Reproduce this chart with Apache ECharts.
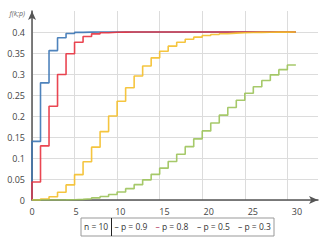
<!DOCTYPE html>
<html><head><meta charset="utf-8">
<script src="https://cdn.jsdelivr.net/npm/echarts@6/dist/echarts.min.js"></script>
<style>html,body{margin:0;padding:0;background:#fff}#c{width:330px;height:244px}</style>
</head><body><div id="c"></div>
<script>
// k = 0..30 ; scaled CDF values
var nValue = 10;
var pLabels = ['0.9', '0.8', '0.5', '0.3'];
var colors = ['#3b76b5', '#e8323f', '#f4bf2a', '#9cc35a'];
var dashColors = ['#333', '#b0305a', '#333', '#333'];
var xTickLabels = [0, 5, 10, 15, 20, 25, 30];
var yTickLabels = [0, 0.05, 0.1, 0.15, 0.2, 0.25, 0.3, 0.35, 0.4];

var p09 = [0.1395, 0.2789, 0.3557, 0.3863, 0.3963, 0.3991, 0.3998, 0.4, 0.4, 0.4, 0.4, 0.4, 0.4, 0.4, 0.4, 0.4,
  0.4, 0.4, 0.4, 0.4, 0.4, 0.4, 0.4, 0.4, 0.4, 0.4, 0.4, 0.4, 0.4, 0.4, 0.4];
var p08 = [0.0429, 0.1288, 0.2233, 0.2989, 0.3481, 0.3756, 0.3893, 0.3956, 0.3983, 0.3994, 0.3998, 0.3999, 0.4, 0.4, 0.4, 0.4,
  0.4, 0.4, 0.4, 0.4, 0.4, 0.4, 0.4, 0.4, 0.4, 0.4, 0.4, 0.4, 0.4, 0.4, 0.4];
var p05 = [0.0004, 0.0023, 0.0077, 0.0185, 0.0359, 0.0604, 0.0909, 0.1258, 0.1629, 0.2, 0.2352, 0.2673, 0.2953, 0.3190, 0.3385, 0.3541,
  0.3663, 0.3756, 0.3826, 0.3877, 0.3915, 0.3941, 0.3960, 0.3973, 0.3982, 0.3988, 0.3992, 0.3995, 0.3997, 0.3998, 0.3999];
var p03 = [0.0000, 0.0000, 0.0001, 0.0003, 0.0007, 0.0015, 0.0029, 0.0051, 0.0084, 0.0130, 0.0192, 0.0270, 0.0366, 0.0480, 0.0611, 0.0758,
  0.0918, 0.1090, 0.1270, 0.1456, 0.1645, 0.1834, 0.2020, 0.2201, 0.2376, 0.2542, 0.2698, 0.2844, 0.2980, 0.3103, 0.3216];
var seriesValues = [p09, p08, p05, p03];

function stepData(vals) {
  var d = [[0, 0]];
  for (var k = 0; k < vals.length; k++) d.push([k, vals[k]]);
  d.push([vals.length, vals[vals.length - 1]]);
  return d;
}

var FONT = 'Open Sans';
var chart = echarts.init(document.getElementById('c'), null, {renderer: 'svg'});

var series = seriesValues.map(function (v, i) {
  return {
    type: 'line', name: 'p = ' + pLabels[i], step: 'end', showSymbol: false,
    data: stepData(v), xAxisIndex: 0,
    lineStyle: {color: colors[i], width: 1.6, opacity: 0.9},
    itemStyle: {color: colors[i]}, animation: false
  };
});

var legendItems = [];
var legendX = [114.5, 155.5, 197, 238];
pLabels.forEach(function (p, i) {
  legendItems.push({
    type: 'text', left: legendX[i], top: 222,
    style: {
      text: '{d|–} p = ' + p, fontFamily: FONT, fontSize: 8.5, fill: '#333',
      rich: {d: {fill: dashColors[i], fontFamily: FONT, fontSize: 8.5}}
    }
  });
});

chart.setOption({
  animation: false,
  grid: {left: 32, right: 12, top: 11, bottom: 44},
  xAxis: [{
    type: 'value', min: 0, max: 33.6, interval: 5,
    axisLine: {show: true, lineStyle: {color: '#555', width: 1.5}, symbol: ['none', 'arrow'], symbolSize: [6, 9]},
    axisTick: {show: false}, axisLabel: {show: false},
    splitLine: {show: true, lineStyle: {color: ['#dcdcdc', '#dcdcdc', '#dcdcdc', '#dcdcdc', '#dcdcdc', '#dcdcdc', '#dcdcdc', 'rgba(0,0,0,0)'], width: 1}}
  }, {
    type: 'value', min: 0, max: 32.38, interval: 5, position: 'bottom',
    axisLine: {show: false}, axisTick: {show: false}, splitLine: {show: false},
    axisLabel: {show: true, showMaxLabel: false, margin: 7, color: '#444', fontFamily: FONT, fontSize: 9,
      formatter: function (v) { return xTickLabels.indexOf(v) >= 0 ? String(v) : ''; }}
  }],
  yAxis: {
    type: 'value', min: 0, max: 0.45, interval: 0.05,
    name: 'f(k;p)', nameLocation: 'end', nameGap: -2,
    nameTextStyle: {align: 'right', verticalAlign: 'middle', padding: [0, 7, 0, 0], color: '#666', fontFamily: FONT, fontSize: 7, fontStyle: 'italic'},
    axisLine: {show: true, lineStyle: {color: '#555', width: 1.5}, symbol: ['none', 'arrow'], symbolSize: [6, 9]},
    axisTick: {show: false},
    axisLabel: {showMaxLabel: false, margin: 7, color: '#444', fontFamily: FONT, fontSize: 9,
      formatter: function (v) {
        for (var i = 0; i < yTickLabels.length; i++) if (Math.abs(yTickLabels[i] - v) < 1e-9) return String(yTickLabels[i]);
        return '';
      }},
    splitLine: {show: true, lineStyle: {color: ['#dcdcdc', '#dcdcdc', '#dcdcdc', '#dcdcdc', '#dcdcdc', '#dcdcdc', '#dcdcdc', '#dcdcdc', '#dcdcdc', 'rgba(0,0,0,0)'], width: 1}}
  },
  series: series,
  graphic: [{
    type: 'rect', shape: {x: 81, y: 218, width: 193, height: 18},
    style: {fill: '#fff', stroke: '#999', lineWidth: 1}, z: 10
  }, {
    type: 'line', shape: {x1: 111.5, y1: 218, x2: 111.5, y2: 236},
    style: {stroke: '#222', lineWidth: 1}, z: 11
  }, {
    type: 'text', left: 84, top: 222, z: 11,
    style: {text: 'n = ' + nValue, fontFamily: FONT, fontSize: 8.5, fill: '#333'}
  }].concat(legendItems.map(function (g) { g.z = 11; return g; }))
});
</script>
</body></html>
